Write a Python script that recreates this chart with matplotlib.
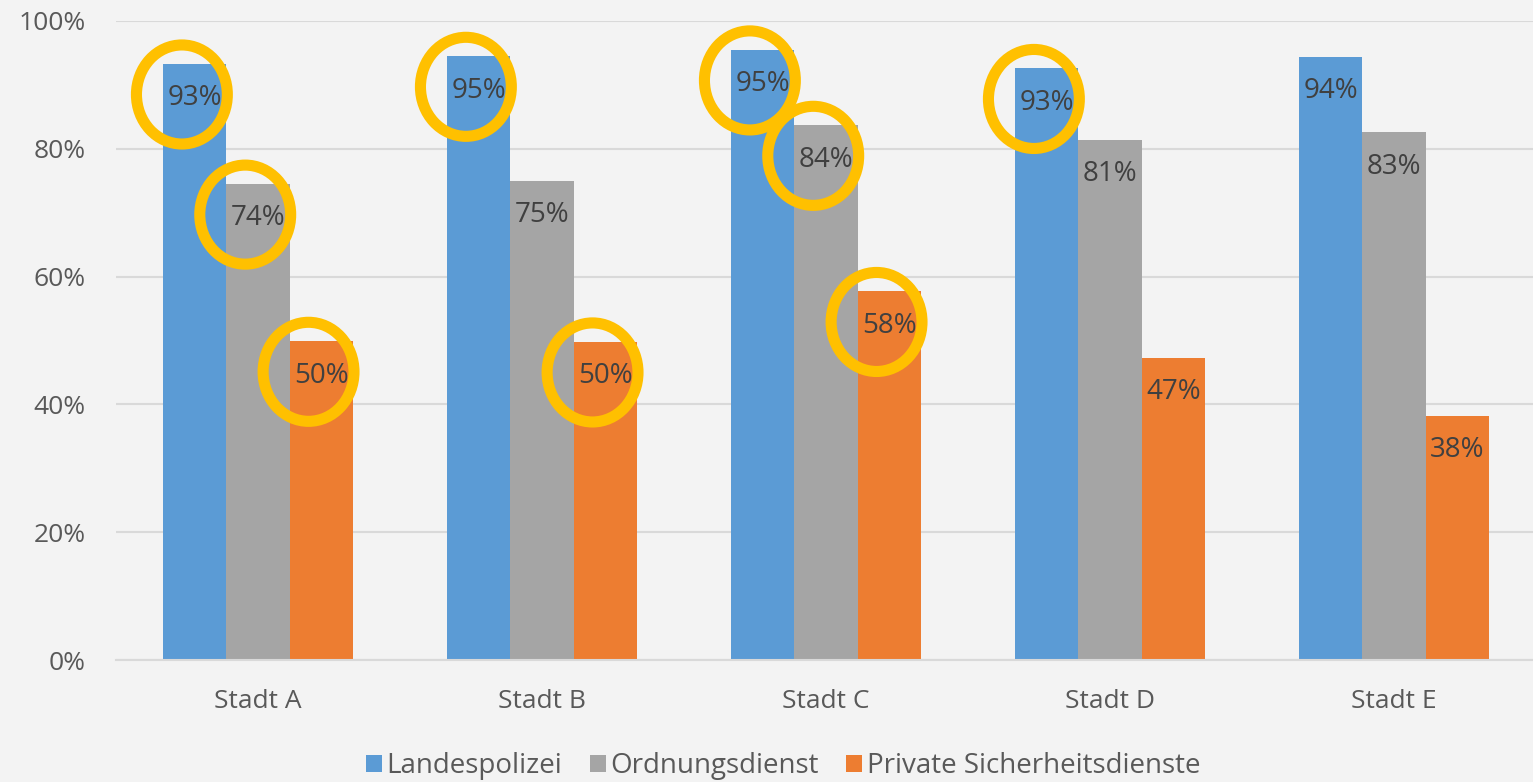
import matplotlib
matplotlib.use("Agg")
import matplotlib.pyplot as plt
from matplotlib.patches import Ellipse
import numpy as np

categories = ["Stadt A", "Stadt B", "Stadt C", "Stadt D", "Stadt E"]
series_names = ["Landespolizei", "Ordnungsdienst", "Private Sicherheitsdienste"]
landespolizei = [93.3, 94.5, 95.5, 92.6, 94.4]
ordnungsdienst = [74.5, 75.0, 83.7, 81.4, 82.6]
private = [49.9, 49.8, 57.7, 47.3, 38.2]
labels_lp = ["93%", "95%", "95%", "93%", "94%"]
labels_od = ["74%", "75%", "84%", "81%", "83%"]
labels_pr = ["50%", "50%", "58%", "47%", "38%"]
# highlighted (category index, series index)
highlighted = [(0, 0), (0, 1), (0, 2), (1, 0), (1, 2), (2, 0), (2, 1), (2, 2), (3, 0)]
yticks = [0, 20, 40, 60, 80, 100]

colors = ["#5B9BD5", "#A5A5A5", "#ED7D31"]
bg = "#F3F3F3"
txt = "#595959"

plt.rcParams['font.family'] = ['Open Sans', 'DejaVu Sans']

fig = plt.figure(figsize=(15.33, 7.82), dpi=100, facecolor=bg)
ax = fig.add_axes([116/1533, 1-660/782, 1420/1533, 639/782])
ax.set_facecolor(bg)

x = np.arange(len(categories))
w = 0.223
all_vals = [landespolizei, ordnungsdienst, private]
all_labels = [labels_lp, labels_od, labels_pr]
for i, (vals, labs) in enumerate(zip(all_vals, all_labels)):
    pos = x + (i - 1) * w
    ax.bar(pos, vals, width=w, color=colors[i], label=series_names[i], zorder=2)
    for p, v, l in zip(pos, vals, labs):
        ax.text(p, v - 5.4, l, ha="center", va="center", fontsize=20, color="#404040", zorder=4)

for ci, si in highlighted:
    cx = x[ci] + (si - 1) * w - 0.045
    cy = all_vals[si][ci] - 4.8
    ax.add_patch(Ellipse((cx, cy), 0.32, 15.5, fill=False, edgecolor="#FFC000", lw=8, zorder=5))

ax.set_xlim(-0.5, len(categories) - 0.5)
ax.set_ylim(0, 100)
ax.set_yticks(yticks)
ax.set_yticklabels([f"{t}%" for t in yticks])
ax.set_xticks(x)
ax.set_xticklabels(categories)
ax.tick_params(axis="y", length=0, pad=22, labelsize=19, labelcolor=txt)
ax.tick_params(axis="x", length=0, pad=21, labelsize=19, labelcolor=txt)
ax.grid(axis="y", color="#D9D9D9", lw=1.5, zorder=0)
ax.set_axisbelow(True)
for s in ["top", "right", "left"]:
    ax.spines[s].set_visible(False)
ax.spines["bottom"].set_color("#D9D9D9")
ax.spines["bottom"].set_linewidth(1.5)

leg = fig.legend(loc="center", bbox_to_anchor=(783/1533, 1-766/782), ncol=3, frameon=False,
                 handlelength=0.58, handleheight=0.58, handletextpad=0.15, columnspacing=1.0,
                 prop={"size": 20})
for t in leg.get_texts():
    t.set_color(txt)

fig.savefig("out.png", dpi=100, facecolor=bg)
